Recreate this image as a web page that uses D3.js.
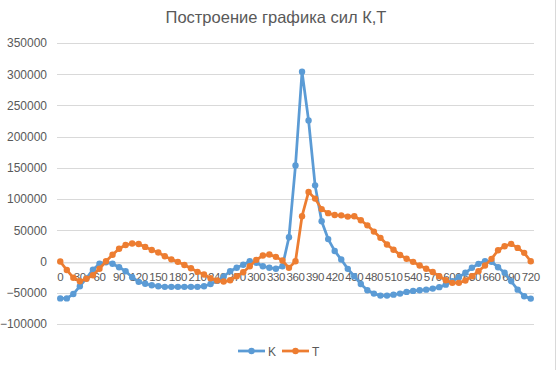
<!DOCTYPE html>
<html lang="ru">
<head>
    <meta charset="UTF-8">
    <title>Построение графика сил К,Т</title>
    <script src="https://d3js.org/d3.v7.min.js"></script>
    <style>
        body { margin: 0; background: #fff; }
        text { font-family: "Liberation Sans", Arial, sans-serif; fill: #595959; }
    </style>
</head>
<body>
<svg id="chart"></svg>

<script>
    // угол, град (шаг 10)
    var angles = d3.range(0, 721, 10);

    // сила K
    var kValues = [
        -59000, -59000, -52000, -39500, -27000, -13000, -3500, -1000, -3500, -9000,
        -15500, -25000, -32500, -35500, -38000, -39500, -40500, -40500, -40500, -40500,
        -40500, -40500, -39500, -36000, -31000, -24000, -15500, -10000, -5000, 500,
        -2000, -7500, -10000, -11500, -7500, 39000, 154000, 304000, 226000, 122000,
        64500, 36000, 17000, 3200, -11700, -23500, -36000, -46000, -51300, -54500,
        -54500, -53000, -51300, -48600, -47000, -46000, -45000, -43300, -41000, -37000,
        -31500, -25000, -18000, -10000, -3700, 500, -500, -9000, -18000, -31500,
        -45000, -55600, -59300
    ];

    // сила T
    var tValues = [
        0, -13500, -26000, -31500, -27500, -22000, -11500, 500, 11000, 20500,
        26500, 29000, 28000, 23500, 18500, 14500, 8500, 3500, -500, -5500,
        -10700, -16500, -20800, -26700, -30400, -32000, -30000, -23500, -17100, -7500,
        2700, 9600, 11200, 7500, 1600, -10100, 500, 72600, 111500, 100800,
        84000, 77500, 74500, 74000, 72000, 72600, 66200, 58000, 48000, 38000,
        27200, 19000, 10600, 4500, -500, -6400, -11500, -16800, -23500, -30000,
        -34100, -34100, -30400, -23500, -15500, -6400, 4300, 18100, 24500, 28300,
        21900, 13900, 500
    ];

    var yTicks = [-100000, -50000, 0, 50000, 100000, 150000, 200000, 250000, 300000, 350000];
    var xTickLabels = d3.range(0, 721, 30);

    var series = [
        {name: "K", values: kValues, color: "#5b9bd5"},
        {name: "T", values: tValues, color: "#ed7d31"}
    ];

    var width = 556;
    var height = 370;
    var margin = {top: 43, right: 22, bottom: 46, left: 57};

    var svg = d3.select("#chart")
        .attr("width", width)
        .attr("height", height);

    // правый край рамки
    svg.append("line")
        .attr("x1", width - 0.5).attr("x2", width - 0.5)
        .attr("y1", 0).attr("y2", height)
        .attr("stroke", "#d9d9d9");

    var x = d3.scaleBand()
        .domain(angles)
        .range([margin.left, width - margin.right]);

    var y = d3.scaleLinear()
        .domain([-100000, 350000])
        .range([height - margin.bottom, margin.top]);

    // сетка
    svg.append("g")
        .selectAll("line")
        .data(yTicks)
        .enter()
        .append("line")
        .attr("x1", margin.left)
        .attr("x2", width - margin.right)
        .attr("y1", function(d) { return Math.round(y(d)) + 0.5; })
        .attr("y2", function(d) { return Math.round(y(d)) + 0.5; })
        .attr("stroke", "#d9d9d9")
        .attr("stroke-width", 1);

    // ось Y
    var yAxis = svg.append("g")
        .attr("transform", "translate(" + (margin.left - 10) + ",0)")
        .call(d3.axisLeft(y).tickValues(yTicks).tickSize(0).tickFormat(d3.format("d")));
    yAxis.select(".domain").remove();
    yAxis.selectAll("text")
        .attr("x", 0)
        .style("font-size", "12px")
        .style("fill", "#595959");

    // ось X (пересекает в нуле)
    var xAxis = svg.append("g")
        .attr("transform", "translate(0," + (Math.round(y(0)) + 0.5) + ")")
        .call(d3.axisBottom(x).tickValues(xTickLabels).tickSize(0));
    xAxis.select(".domain").attr("stroke", "#d9d9d9");
    xAxis.selectAll("text")
        .attr("y", 10)
        .style("font-size", "11.5px")
        .style("letter-spacing", "-0.4px")
        .style("fill", "#595959");

    var line = d3.line()
        .x(function(d, i) { return x(angles[i]) + x.bandwidth() / 2; })
        .y(function(d) { return y(d); });

    series.forEach(function(s) {
        var g = svg.append("g");
        g.append("path")
            .datum(s.values)
            .attr("d", line)
            .attr("fill", "none")
            .attr("stroke", s.color)
            .attr("stroke-width", 2.75)
            .attr("stroke-linejoin", "round");
        g.selectAll("circle")
            .data(s.values)
            .enter()
            .append("circle")
            .attr("cx", function(d, i) { return x(angles[i]) + x.bandwidth() / 2; })
            .attr("cy", function(d) { return y(d); })
            .attr("r", 3.2)
            .attr("fill", s.color);
    });

    // заголовок
    svg.append("text")
        .attr("x", 276)
        .attr("y", 23)
        .attr("text-anchor", "middle")
        .style("font-size", "16.5px")
        .text("Построение графика сил К,Т");

    // легенда
    var legend = svg.append("g").attr("transform", "translate(238,351)");
    var item = legend.selectAll("g")
        .data(series)
        .enter()
        .append("g")
        .attr("transform", function(d, i) { return "translate(" + (i * 44) + ",0)"; });
    item.append("line")
        .attr("x1", 0).attr("x2", 27)
        .attr("stroke", function(d) { return d.color; })
        .attr("stroke-width", 2.75);
    item.append("circle")
        .attr("cx", 13.5).attr("r", 3.2)
        .attr("fill", function(d) { return d.color; });
    item.append("text")
        .attr("x", 30).attr("y", 4.5)
        .style("font-size", "12px")
        .text(function(d) { return d.name; });
</script>
</body>
</html>
